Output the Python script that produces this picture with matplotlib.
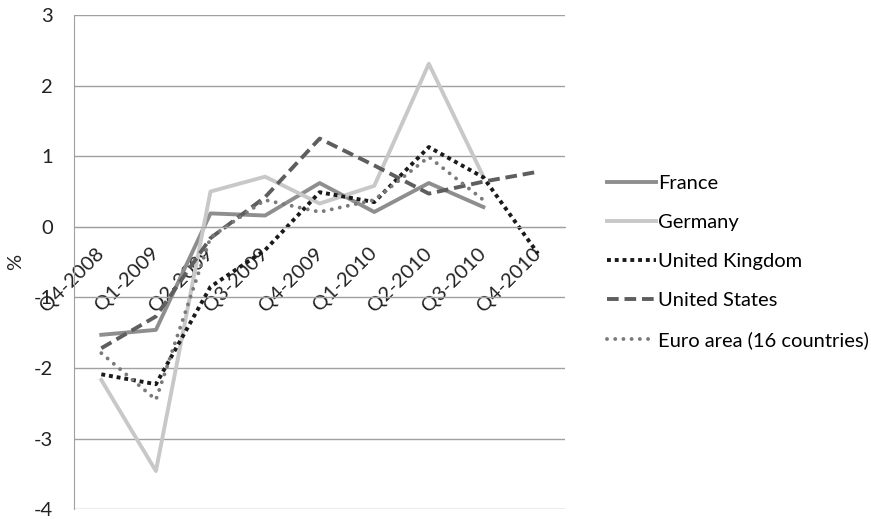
import numpy as np
import matplotlib
matplotlib.use("Agg")
import matplotlib.pyplot as plt

plt.rcParams['font.family'] = ['Lato', 'DejaVu Sans']
plt.rcParams['axes.unicode_minus'] = False

quarters = ['Q4-2008', 'Q1-2009', 'Q2-2009', 'Q3-2009', 'Q4-2009',
            'Q1-2010', 'Q2-2010', 'Q3-2010', 'Q4-2010']
nan = np.nan
france = [-1.53, -1.46, 0.19, 0.16, 0.62, 0.21, 0.62, 0.28, nan]
germany = [-2.17, -3.46, 0.50, 0.71, 0.33, 0.58, 2.31, 0.71, nan]
uk = [-2.09, -2.23, -0.85, -0.33, 0.49, 0.35, 1.13, 0.70, -0.38]
us = [-1.72, -1.27, -0.16, 0.42, 1.25, 0.87, 0.47, 0.64, 0.78]
euro = [-1.79, -2.45, -0.15, 0.38, 0.21, 0.38, 0.99, 0.38, nan]

fs = 14.5

fig = plt.figure(figsize=(8.71, 5.19), dpi=100)
ax = fig.add_axes([0.085, 0.019, 0.564, 0.952])

x = np.arange(len(quarters))
ax.plot(x, france, color='#8e8e8e', lw=2.8, solid_joinstyle='round', label='France')
ax.plot(x, germany, color='#c8c8c8', lw=2.8, solid_joinstyle='round', label='Germany')
ax.plot(x, uk, color='#1a1a1a', lw=2.8, linestyle=(0, (1, 1)), label='United Kingdom')
ax.plot(x, us, color='#5e5e5e', lw=2.8, linestyle=(0, (3, 1.5)), label='United States')
ax.plot(x, euro, color='#7a7a7a', lw=2.8, linestyle=(0, (0.01, 2.1)),
        dash_capstyle='round', label='Euro area (16 countries)')

ax.set_xlim(-0.5, len(quarters) - 0.5)
ax.set_ylim(-4, 3)
ax.set_yticks(range(-4, 4))
ax.grid(axis='y', color='#a0a0a0', lw=1.0)
ax.set_axisbelow(True)

# category axis crosses at zero
ax.spines['bottom'].set_position(('data', 0))
ax.spines['bottom'].set_color('#a0a0a0')
ax.spines['left'].set_color('#a0a0a0')
ax.spines['top'].set_visible(False)
ax.spines['right'].set_visible(False)

ax.set_xticks(x)
ax.set_xticklabels(quarters, rotation=45, ha='right', va='center',
                   rotation_mode='anchor', fontsize=fs, color='#222222')
ax.tick_params(axis='x', length=0, pad=17)
ax.tick_params(axis='y', length=0, pad=15, labelsize=fs, labelcolor='#222222')
ax.set_ylabel('%', fontsize=fs, color='#222222', labelpad=7)

fig.legend(loc='center left', bbox_to_anchor=(0.676, 0.495), frameon=False,
           fontsize=fs, handlelength=2.45, handletextpad=0.1, labelspacing=1.1)

fig.savefig('out.png', dpi=100)
